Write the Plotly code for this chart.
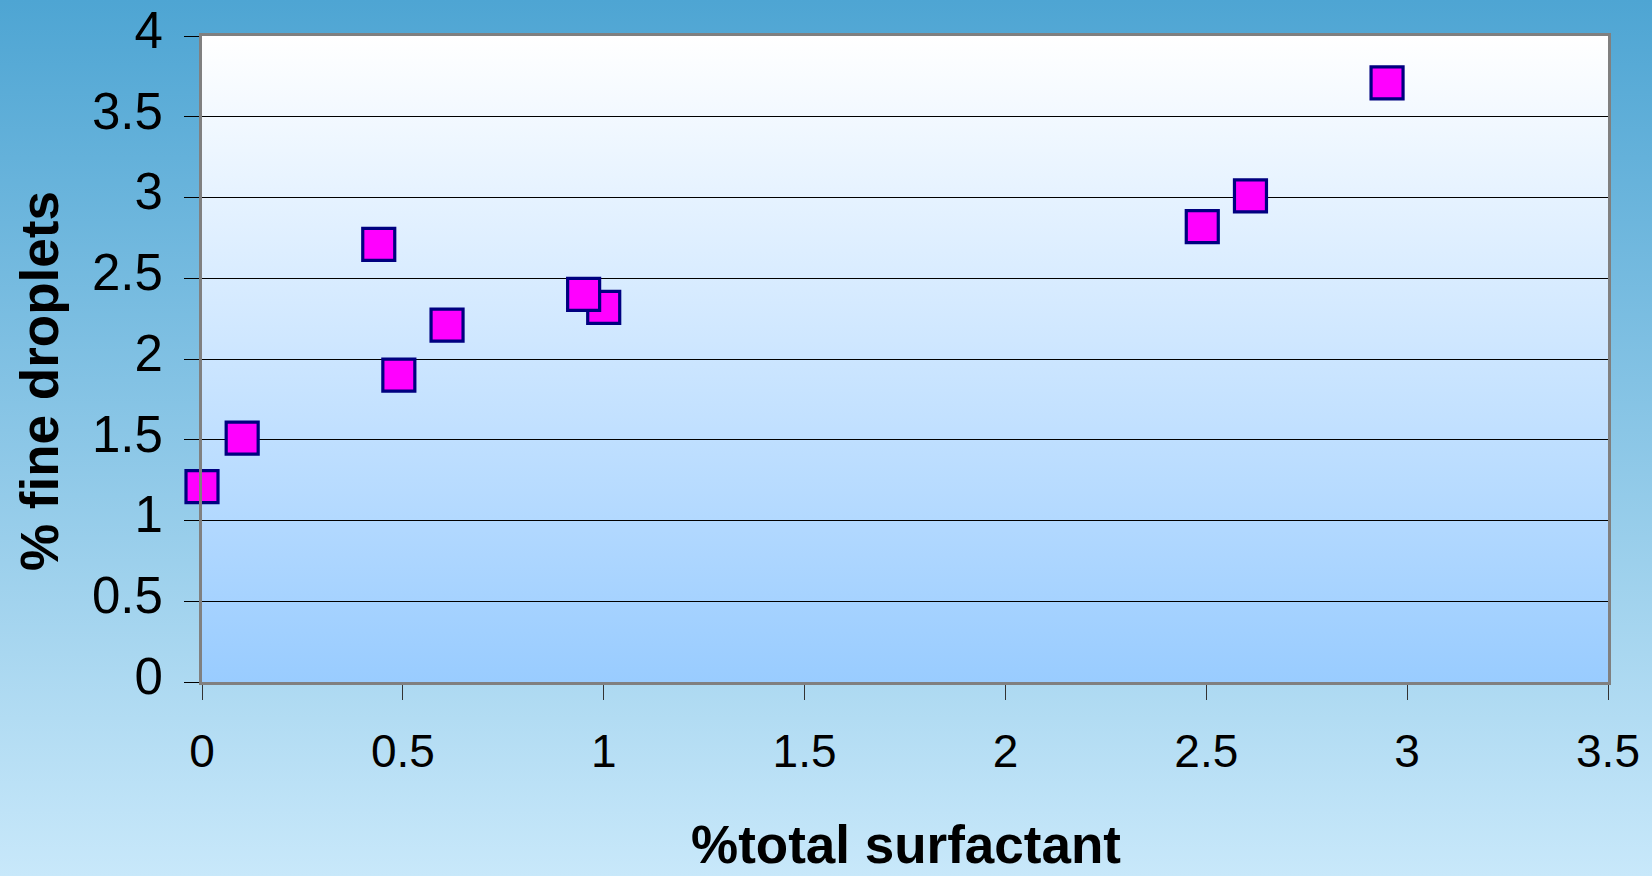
import base64
import plotly.graph_objects as go

# % total surfactant vs % fine droplets
surfactant_pct = [0.0, 0.10, 0.44, 0.49, 0.61, 1.00, 0.95, 2.49, 2.61, 2.95]
fine_droplets_pct = [1.21, 1.51, 2.71, 1.90, 2.21, 2.32, 2.40, 2.82, 3.01, 3.71]

x_ticks = [0, 0.5, 1, 1.5, 2, 2.5, 3, 3.5]
y_ticks = [0, 0.5, 1, 1.5, 2, 2.5, 3, 3.5, 4]

W, H = 1652, 876
ML, MR, MT, MB = 202, 44, 36, 194
PW, PH = W - ML - MR, H - MT - MB


def gradient_uri(top, bottom):
    svg = (
        '<svg xmlns="http://www.w3.org/2000/svg" width="100" height="100" '
        'viewBox="0 0 100 100" preserveAspectRatio="none">'
        '<defs><linearGradient id="g" x1="0" y1="0" x2="0" y2="1">'
        f'<stop offset="0" stop-color="{top}"/>'
        f'<stop offset="1" stop-color="{bottom}"/>'
        '</linearGradient></defs>'
        '<rect x="0" y="0" width="100" height="100" fill="url(#g)"/></svg>'
    )
    return "data:image/svg+xml;base64," + base64.b64encode(svg.encode()).decode()


FONT = "Liberation Sans, Arial, sans-serif"

fig = go.Figure()
fig.add_trace(go.Scatter(
    x=surfactant_pct,
    y=fine_droplets_pct,
    mode="markers",
    cliponaxis=False,
    marker=dict(symbol="square", size=32, color="#ff00ff",
                line=dict(color="#000080", width=3.2)),
    showlegend=False,
))

fig.update_layout(
    width=W, height=H,
    margin=dict(l=ML, r=MR, t=MT, b=MB, pad=0, autoexpand=False),
    paper_bgcolor="#c8e8fa",
    plot_bgcolor="rgba(0,0,0,0)",
    images=[
        # page background
        dict(source=gradient_uri("#4ea5d3", "#c8e8fa"), xref="paper", yref="paper",
             x=-ML / PW, y=1 + MT / PH, sizex=W / PW, sizey=H / PH,
             xanchor="left", yanchor="top", sizing="stretch", layer="below"),
        # plot area background
        dict(source=gradient_uri("#ffffff", "#99ccff"), xref="paper", yref="paper",
             x=0, y=1, sizex=1, sizey=1,
             xanchor="left", yanchor="top", sizing="stretch", layer="below"),
    ],
    xaxis=dict(
        range=[0, 3.5], tickvals=x_ticks, ticktext=[f"{v:g}" for v in x_ticks],
        showgrid=False, zeroline=False, automargin=False,
        showline=True, mirror=True, linecolor="#808080", linewidth=3,
        ticks="outside", ticklen=15, tickwidth=1, tickcolor="#333333",
        tickfont=dict(family=FONT, size=46, color="#000000"),
        ticklabelstandoff=12,
    ),
    yaxis=dict(
        range=[0, 4], tickvals=y_ticks, ticktext=[f"{v:g}" for v in y_ticks],
        showgrid=True, gridcolor="#000000", gridwidth=1, zeroline=False,
        automargin=False,
        showline=True, mirror=True, linecolor="#808080", linewidth=3,
        ticks="outside", ticklen=15, tickwidth=1, tickcolor="#000000",
        tickfont=dict(family=FONT, size=51, color="#000000"),
        ticklabelstandoff=11, ticklabelshift=-6, ticklabeloverflow="allow",
    ),
    annotations=[
        dict(text="<b>%total surfactant</b>", xref="paper", yref="paper",
             x=(906 - ML) / PW, y=-(876 - MT - PH) / PH,
             xanchor="center", yanchor="bottom", showarrow=False,
             font=dict(family=FONT, size=53, color="#000000")),
        dict(text="<b>% fine droplets</b>", xref="paper", yref="paper",
             x=(40 - ML) / PW, y=1 - (381 - MT) / PH, textangle=-90,
             xanchor="center", yanchor="middle", showarrow=False,
             font=dict(family=FONT, size=53, color="#000000")),
    ],
)

fig.write_html("out.html")
